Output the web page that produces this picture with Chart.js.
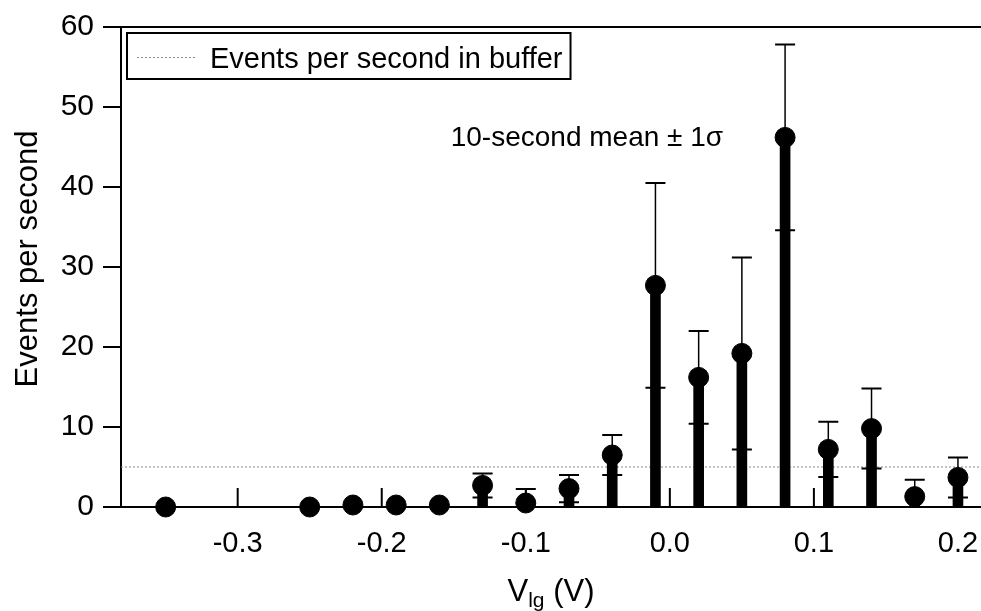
<!DOCTYPE html>
<html>
<head>
<meta charset="utf-8">
<script src="https://cdn.jsdelivr.net/npm/chart.js@4.4.1/dist/chart.umd.min.js"></script>
<style>
  html, body { margin: 0; padding: 0; background: #fff; }
  #wrap { width: 981px; height: 611px; }
</style>
</head>
<body>
<div id="wrap"><canvas id="eventsChart" width="981" height="611"></canvas></div>
<script>
// gate voltage steps (V)
const gateVoltages = [-0.35, -0.25, -0.22, -0.19, -0.16, -0.13, -0.10, -0.07, -0.04, -0.01, 0.02, 0.05, 0.08, 0.11, 0.14, 0.17, 0.20];
// 10-second mean of events per second, and 1 sigma
const meanRates = [0, 0, 0.25, 0.25, 0.25, 2.7, 0.5, 2.3, 6.5, 27.7, 16.2, 19.2, 46.2, 7.2, 9.8, 1.3, 3.7];
const sigmaRates = [0, 0, 0, 0, 0, 1.5, 1.75, 1.7, 2.5, 12.8, 5.8, 12.0, 11.6, 3.45, 5.0, 2.1, 2.5];
// events per second in buffer
const bufferRate = 5;

const xTicks = [-0.3, -0.2, -0.1, 0.0, 0.1, 0.2];
const yTicks = [0, 10, 20, 30, 40, 50, 60];
const xMin = -0.381, xMax = 0.216;

const FONT = "'Liberation Sans', Arial, sans-serif";

const points = gateVoltages.map((v, i) => ({ x: v, y: meanRates[i] }));

// error bars, inward x ticks, legend box, annotation and axis titles
const extras = {
    id: 'extras',
    afterDatasetsDraw(chart) {
        const { ctx, chartArea: a, scales: { x, y } } = chart;
        ctx.save();
        ctx.beginPath();
        ctx.rect(a.left, a.top, a.right - a.left, a.bottom - a.top);
        ctx.clip();
        ctx.strokeStyle = '#000';
        gateVoltages.forEach((v, i) => {
            const s = sigmaRates[i];
            if (!s) return;
            const px = x.getPixelForValue(v);
            const hi = y.getPixelForValue(meanRates[i] + s);
            const lo = y.getPixelForValue(meanRates[i] - s);
            ctx.lineWidth = 1.5;
            ctx.beginPath();
            ctx.moveTo(px, hi);
            ctx.lineTo(px, lo);
            ctx.stroke();
            ctx.lineWidth = 2;
            ctx.beginPath();
            ctx.moveTo(px - 10, hi); ctx.lineTo(px + 10, hi);
            ctx.moveTo(px - 10, lo); ctx.lineTo(px + 10, lo);
            ctx.stroke();
        });
        ctx.restore();
    },
    afterDraw(chart) {
        const { ctx, chartArea: a, scales: { x, y } } = chart;
        ctx.save();

        // x ticks point up into the plot
        ctx.strokeStyle = '#000';
        ctx.lineWidth = 2;
        x.ticks.forEach(t => {
            const px = x.getPixelForValue(t.value);
            ctx.beginPath();
            ctx.moveTo(px, a.bottom);
            ctx.lineTo(px, a.bottom - 19);
            ctx.stroke();
        });

        // legend
        const ds = chart.data.datasets[2];
        ctx.font = '29px ' + FONT;
        const bx = a.left + 6, by = a.top + 6;
        const tx = bx + 83;
        const tw = ctx.measureText(ds.label).width;
        ctx.fillStyle = '#fff';
        ctx.fillRect(bx, by, tx + tw + 8 - bx, 46);
        ctx.lineWidth = 2;
        ctx.strokeStyle = '#000';
        ctx.strokeRect(bx, by, tx + tw + 8 - bx, 46);
        ctx.strokeStyle = ds.borderColor;
        ctx.lineWidth = 1;
        ctx.setLineDash(ds.borderDash);
        ctx.beginPath();
        ctx.moveTo(bx + 10, by + 24.5);
        ctx.lineTo(bx + 68, by + 24.5);
        ctx.stroke();
        ctx.setLineDash([]);
        ctx.fillStyle = '#000';
        ctx.textBaseline = 'alphabetic';
        ctx.textAlign = 'left';
        ctx.fillText(ds.label, tx, by + 35);

        // annotation next to the largest mean
        const peak = meanRates.indexOf(Math.max(...meanRates));
        ctx.font = '28px ' + FONT;
        ctx.textAlign = 'right';
        ctx.fillText('10-second mean \u00b1 1\u03c3',
            x.getPixelForValue(gateVoltages[peak]) - 62,
            y.getPixelForValue(meanRates[peak]) + 9);

        // x title with subscript
        const main = '31px ' + FONT, sub = '21px ' + FONT;
        ctx.font = main;
        const w1 = ctx.measureText('V').width, w3 = ctx.measureText(' (V)').width;
        ctx.font = sub;
        const w2 = ctx.measureText('lg').width;
        let cx = (a.left + a.right) / 2 - (w1 + w2 + w3) / 2;
        const base = chart.height - 10;
        ctx.textAlign = 'left';
        ctx.font = main;
        ctx.fillText('V', cx, base);
        cx += w1;
        ctx.font = sub;
        ctx.fillText('lg', cx, base + 6);
        cx += w2;
        ctx.font = main;
        ctx.fillText(' (V)', cx, base);

        // y title
        ctx.translate(37, (a.top + a.bottom) / 2 - 8);
        ctx.rotate(-Math.PI / 2);
        ctx.textAlign = 'center';
        ctx.font = main;
        ctx.fillText('Events per second', 0, 0);

        ctx.restore();
    }
};

const noSidePadding = s => {
    s.paddingLeft = 0;
    s.paddingRight = 0;
};

const ctx = document.getElementById('eventsChart').getContext('2d');
const eventsChart = new Chart(ctx, {
    type: 'bar',
    data: {
        datasets: [
            {
                type: 'scatter',
                label: '10-second mean',
                data: points,
                pointRadius: 10,
                pointBackgroundColor: '#000',
                pointBorderColor: '#000',
                pointBorderWidth: 1,
                clip: false,
                order: 0
            },
            {
                type: 'bar',
                label: 'stem',
                data: points,
                backgroundColor: '#000',
                barThickness: 10,
                order: 1
            },
            {
                type: 'line',
                label: 'Events per second in buffer',
                data: [{ x: xMin, y: bufferRate }, { x: xMax, y: bufferRate }],
                borderColor: '#8a8a8a',
                borderWidth: 1,
                borderDash: [2, 2],
                pointRadius: 0,
                order: 2
            }
        ]
    },
    options: {
        responsive: false,
        animation: false,
        devicePixelRatio: 1,
        layout: { padding: 0, autoPadding: false },
        plugins: {
            legend: { display: false },
            tooltip: { enabled: false }
        },
        scales: {
            x: {
                type: 'linear',
                position: 'bottom',
                min: xMin,
                max: xMax,
                offset: false,
                afterBuildTicks: s => { s.ticks = xTicks.map(v => ({ value: v })); },
                afterFit: s => { s.height = 104; noSidePadding(s); },
                grid: { display: false },
                border: { display: true, color: '#000', width: 2 },
                ticks: {
                    color: '#000',
                    padding: 12,
                    maxRotation: 0,
                    font: { family: FONT, size: 29 },
                    callback: v => v.toFixed(1)
                }
            },
            x2: {
                type: 'linear',
                position: 'top',
                min: xMin,
                max: xMax,
                afterFit: s => { s.height = 27; noSidePadding(s); },
                grid: { display: false },
                border: { display: true, color: '#000', width: 2 },
                ticks: { display: false }
            },
            y: {
                type: 'linear',
                min: 0,
                max: 60,
                afterBuildTicks: s => { s.ticks = yTicks.map(v => ({ value: v })); },
                afterFit: s => { s.width = 121; s.paddingTop = 0; s.paddingBottom = 0; },
                grid: {
                    drawOnChartArea: false,
                    color: '#000',
                    lineWidth: 2,
                    tickLength: 18
                },
                border: { display: true, color: '#000', width: 2 },
                ticks: {
                    color: '#000',
                    padding: 9,
                    font: { family: FONT, size: 30 }
                }
            }
        }
    },
    plugins: [extras]
});
</script>
</body>
</html>
